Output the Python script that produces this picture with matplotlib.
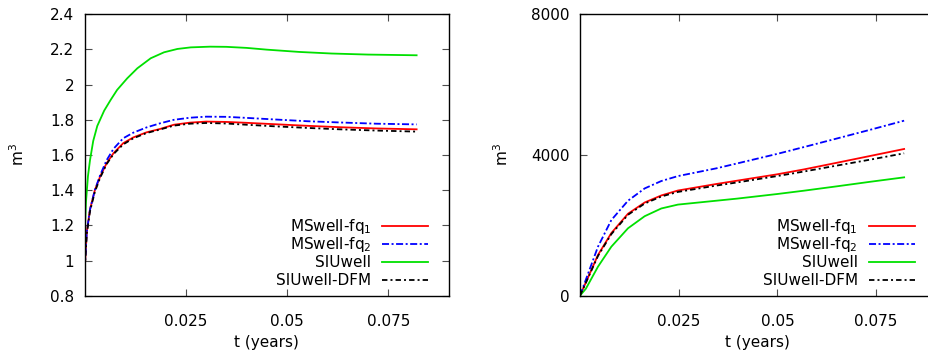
import matplotlib
matplotlib.use("Agg")
import matplotlib.pyplot as plt

plt.rcParams['font.family'] = 'DejaVu Sans'
plt.rcParams['font.size'] = 11
plt.rcParams['mathtext.fontset'] = 'dejavusans'

# series labels / colors
labels = ["MSwell-fq$_1$", "MSwell-fq$_2$", "SIUwell", "SIUwell-DFM"]
colors = ["#ff0000", "#0000ff", "#00e000", "#000000"]

# left panel, time in years
t_left = [0, 0.0005, 0.0013, 0.0025, 0.0038, 0.0054, 0.0071, 0.0095, 0.012, 0.0153,
          0.0186, 0.022, 0.026, 0.030, 0.035, 0.040, 0.047, 0.055, 0.063, 0.072, 0.082]
ms1_left = [0.95, 1.16, 1.29, 1.40, 1.477, 1.553, 1.61, 1.667, 1.70, 1.729,
            1.748, 1.772, 1.784, 1.79, 1.788, 1.783, 1.775, 1.766, 1.758, 1.751, 1.746]
ms2_left = [0.95, 1.16, 1.29, 1.40, 1.485, 1.57, 1.635, 1.695, 1.727, 1.757,
            1.78, 1.80, 1.812, 1.818, 1.817, 1.811, 1.802, 1.792, 1.785, 1.778, 1.774]
dfm_left = [0.95, 1.15, 1.28, 1.39, 1.47, 1.548, 1.605, 1.66, 1.695, 1.725,
            1.745, 1.767, 1.778, 1.782, 1.779, 1.772, 1.763, 1.754, 1.746, 1.739, 1.733]

t_siu_left = [0, 0.0003, 0.0008, 0.0013, 0.0021, 0.0031, 0.0048, 0.0064, 0.008, 0.0105,
              0.013, 0.0163, 0.0196, 0.0229, 0.0262, 0.031, 0.035, 0.040, 0.045,
              0.053, 0.061, 0.070, 0.082]
siu_left = [1.15, 1.33, 1.48, 1.57, 1.68, 1.765, 1.852, 1.913, 1.97, 2.036,
            2.093, 2.15, 2.184, 2.203, 2.212, 2.216, 2.215, 2.209, 2.199,
            2.186, 2.177, 2.171, 2.167]

# right panel
t_right = [0, 0.0015, 0.00456, 0.00794, 0.01216, 0.01639, 0.0206, 0.0248, 0.0345,
           0.0398, 0.0499, 0.0567, 0.0651, 0.0736, 0.0821]
ms1_right = [0, 380, 1157, 1780, 2330, 2650, 2850, 2990, 3175, 3270, 3450, 3590, 3780, 3975, 4171]
ms2_right = [0, 460, 1393, 2150, 2700, 3050, 3260, 3400, 3620, 3760, 4030, 4225, 4470, 4720, 4976]
siu_right = [0, 200, 825, 1393, 1916, 2260, 2480, 2590, 2700, 2760, 2890, 2985, 3110, 3240, 3365]
dfm_right = [0, 370, 1130, 1750, 2300, 2620, 2820, 2950, 3130, 3220, 3400, 3530, 3700, 3870, 4048]

left_ticks = [0.8, 1.0, 1.2, 1.4, 1.6, 1.8, 2.0, 2.2, 2.4]
left_ticklabels = ['0.8', '1', '1.2', '1.4', '1.6', '1.8', '2', '2.2', '2.4']
right_ticks = [0, 4000, 8000]
x_ticks = [0.025, 0.05, 0.075]
x_ticklabels = ['0.025', '0.05', '0.075']

lw = 1.3
styles = ['-', (0, (3.9, 1.4, 1.1, 1.4)), '-', (0, (3.0, 1.7, 1.1, 1.7))]

fig = plt.figure(figsize=(9.29, 3.54), dpi=100)
ax1 = fig.add_axes([0.0912, 0.1647, 0.3921, 0.7949])
ax2 = fig.add_axes([0.6243, 0.1647, 0.3825, 0.7949])

left_series = [(t_left, ms1_left), (t_left, ms2_left), (t_siu_left, siu_left), (t_left, dfm_left)]
right_series = [(t_right, ms1_right), (t_right, ms2_right), (t_right, siu_right), (t_right, dfm_right)]


def draw_legend(ax, width_px):
    # gnuplot style key: right-aligned text, sample line to the right
    x2 = 1 - 20.5 / width_px
    x1 = x2 - 46 / width_px
    xt = x1 - 11 / width_px
    h = 281.4
    for i, (lab, c, ls) in enumerate(zip(labels, colors, styles)):
        y = (70 - 18 * i) / h
        ax.plot([x1, x2], [y, y], transform=ax.transAxes, color=c, ls=ls, lw=lw, clip_on=False)
        ax.text(xt, y - 5.3 / h, lab, transform=ax.transAxes, ha='right', va='baseline')


for ax, series, width_px in [(ax1, left_series, 364.3), (ax2, right_series, 355.3)]:
    for (t, v), c, ls in zip(series, colors, styles):
        ax.plot(t, v, color=c, ls=ls, lw=lw)
    ax.set_xlim(0, 0.09)
    ax.set_xticks(x_ticks)
    ax.set_xticklabels(x_ticklabels)
    ax.tick_params(direction='in', length=5, width=0.8, color='0.3',
                   top=True, right=True, pad=7.5)
    ax.tick_params(axis='x', pad=13)
    for sp in ax.spines.values():
        sp.set_linewidth(1.0)
    ax.set_xlabel('t (years)')
    ax.xaxis.set_label_coords(0.5, -0.139)
    ax.set_ylabel('m$^3$')
    draw_legend(ax, width_px)

ax1.set_ylim(0.8, 2.4)
ax1.set_yticks(left_ticks)
ax1.set_yticklabels(left_ticklabels)
ax1.yaxis.set_label_coords(-0.158, 0.5)

ax2.set_ylim(0, 8000)
ax2.set_yticks(right_ticks)
ax2.yaxis.set_label_coords(-0.194, 0.5)

fig.savefig('out.png', dpi=100)
